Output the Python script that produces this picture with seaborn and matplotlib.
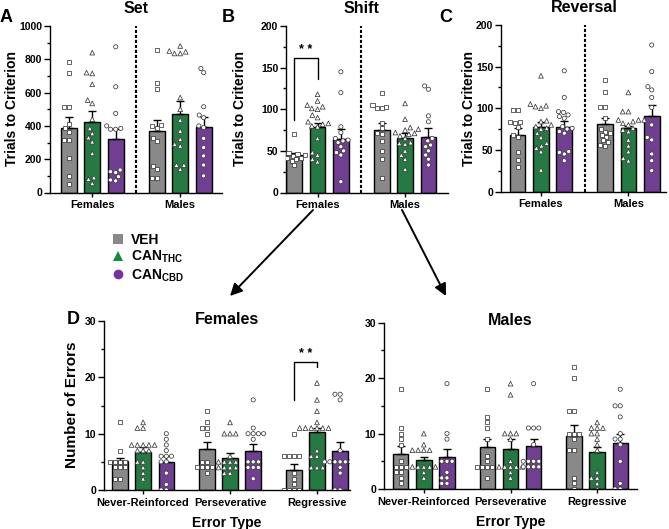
import warnings

import matplotlib

matplotlib.use("Agg")
import matplotlib.pyplot as plt
import pandas as pd
import seaborn as sns
from matplotlib.lines import Line2D
from matplotlib.patches import FancyArrowPatch
from matplotlib.ticker import MultipleLocator

warnings.filterwarnings("ignore")

sns.set_theme(style="ticks")
plt.rcParams["font.family"] = ["Liberation Sans", "DejaVu Sans"]
plt.rcParams["font.weight"] = "bold"
plt.rcParams["axes.labelweight"] = "bold"
plt.rcParams["mathtext.fontset"] = "custom"
plt.rcParams["mathtext.rm"] = "Liberation Sans:bold"
plt.rcParams["mathtext.bf"] = "Liberation Sans:bold"
plt.rcParams["mathtext.it"] = "Liberation Sans:bold"
for key in ["text.color", "axes.labelcolor", "xtick.color", "ytick.color",
            "xtick.labelcolor", "ytick.labelcolor"]:
    plt.rcParams[key] = "black"

TREATMENTS = ["VEH", "THC", "CBD"]
LABELS = ["VEH", r"CAN$_{\mathrm{THC}}$", r"CAN$_{\mathrm{CBD}}$"]
COLORS = ["#898989", "#17883F", "#7431A0"]
MARKERS = ["s", "^", "o"]

SEXES = ["Females", "Males"]
ERROR_TYPES = ["Never-Reinforced", "Perseverative", "Regressive"]

# --- Set (trials to criterion); rows = VEH, THC, CBD ; cols = Females, Males
set_mean = [[387, 367], [421, 473], [321, 393]]
set_sem = [[66, 66], [66, 78], [62, 60]]
set_veh = [[785, 718, 515, 515, 410, 385, 365, 315, 315, 205, 100, 50],
           [855, 655, 620, 405, 400, 390, 330, 310, 160, 140, 90, 90]]
set_thc = [[840, 715, 720, 650, 555, 535, 440, 385, 355, 330, 305, 235, 90, 80, 55],
           [880, 845, 850, 835, 835, 570, 500, 435, 370, 320, 290, 280, 165, 165, 140]]
set_cbd = [[875, 635, 475, 400, 385, 380, 380, 135, 125, 120, 95, 75, 70],
           [745, 720, 515, 465, 450, 400, 390, 325, 270, 220, 165, 100]]

# --- Shift
shift_mean = [[44.7, 74.6], [78.6, 65.9], [64.7, 66.7]]
shift_sem = [[3, 8.7], [4.5, 5], [11, 10.5]]
shift_veh = [[70, 47, 46, 46, 45, 44, 44, 42, 41, 40, 38, 33],
             [120, 105, 103, 102, 101, 84, 78, 72, 70, 62, 50, 40, 17]]
shift_thc = [[118, 110, 105, 103, 101, 100, 93, 90, 85, 83, 82, 80, 79, 65, 48, 45, 40, 37],
             [107, 88, 78, 76, 75, 72, 71, 70, 68, 65, 60, 59, 58, 50, 45, 40, 28]]
shift_cbd = [[145, 120, 79, 72, 65, 63, 62, 60, 55, 50, 48, 45, 13],
             [128, 124, 92, 85, 65, 62, 57, 55, 50, 45, 40, 33]]

# --- Reversal
rev_mean = [[68, 81], [77, 76], [77, 91]]
rev_sem = [[8.5, 7], [6, 3], [8, 13.5]]
rev_veh = [[98, 98, 83, 83, 82, 77, 68, 66, 48, 38, 30],
           [134, 120, 101, 101, 88, 75, 72, 70, 68, 66, 62, 60, 56, 55]]
rev_thc = [[139, 105, 103, 102, 100, 85, 84, 80, 78, 76, 75, 70, 65, 58, 55, 52, 48, 26],
           [119, 96, 96, 86, 86, 86, 84, 82, 80, 76, 74, 72, 62, 55, 48, 40, 37]]
rev_cbd = [[145, 113, 96, 95, 92, 90, 88, 78, 76, 75, 72, 70, 48, 47, 45, 37],
           [176, 144, 126, 122, 113, 101, 80, 65, 62, 45, 37, 25]]

# --- Errors, females; cols = Never-Reinforced, Perseverative, Regressive
fem_mean = [[5.2, 7.2, 3.5], [6.8, 5.6, 10.3], [5.0, 7.0, 7.0]]
fem_sem = [[0.45, 1.25, 1.05], [0.8, 0.9, 0.7], [1.0, 1.2, 1.6]]
fem_veh = [[12, 7, 5, 5, 5, 5, 4, 4, 4, 2, 2],
           [14, 12, 11, 11, 10, 5, 5, 4, 4, 4, 4, 3],
           [10, 6, 6, 6, 6, 3, 2, 1, 0, 0, 0, 0]]
fem_thc = [[12, 11, 11, 8, 8, 8, 8, 8, 7, 7, 7, 5, 5, 4, 3, 2],
           [12, 10, 10, 10, 6, 5, 5, 5, 5, 4, 4, 4, 4, 3, 3],
           [19, 16, 14, 12, 11, 11, 11, 11, 11, 11, 7, 6, 6, 4, 4, 4]]
fem_cbd = [[10, 9, 8, 7, 6, 6, 6, 5, 5, 3, 1, 0, 0],
           [16, 11, 10, 10, 10, 10, 9, 5, 5, 5, 4, 4, 4, 2],
           [17, 17, 16, 7, 5, 5, 5, 5, 5, 5, 4, 3, 0, 0]]

# --- Errors, males
mal_mean = [[6.3, 7.5, 9.6], [5.2, 7.2, 6.6], [5.7, 7.7, 8.3]]
mal_sem = [[1.4, 1.5, 1.9], [0.6, 1.8, 0.9], [1.6, 1.3, 1.7]]
mal_veh = [[18, 11, 10, 9, 8, 5, 4, 4, 4, 3, 3, 2, 1],
           [18, 13, 12, 11, 9, 6, 5, 4, 4, 4, 4, 2],
           [22, 20, 14, 14, 10, 10, 10, 9, 7, 7, 2, 1, 0]]
mal_thc = [[10, 8, 7, 7, 7, 7, 4, 4, 4, 4, 4, 3, 2],
           [19, 17, 10, 10, 10, 9, 5, 4, 4, 4, 4, 4, 3, 2],
           [12, 11, 11, 11, 10, 10, 9, 8, 7, 3, 2, 2, 1, 0]]
mal_cbd = [[19, 10, 9, 5, 5, 5, 3, 2, 2, 1, 1],
           [19, 11, 11, 11, 8, 5, 5, 5, 5, 4, 4, 4, 4],
           [18, 15, 15, 13, 10, 9, 9, 8, 5, 1, 0, 0]]

W, H = 669, 529
fig = plt.figure(figsize=(W / 100, H / 100), dpi=100)


def px_axes(left, top, right, bottom):
    return fig.add_axes([left / W, 1 - bottom / H, (right - left) / W, (bottom - top) / H])


def draw_panel(ax, cats, means, sems, points, ylim, major, minor, xlim):
    bar_df = pd.DataFrame(
        [(c, t, m) for t, row in zip(TREATMENTS, means) for c, m in zip(cats, row)],
        columns=["cat", "treatment", "value"],
    )
    sns.barplot(data=bar_df, x="cat", y="value", hue="treatment", order=cats,
                hue_order=TREATMENTS, palette=COLORS, gap=0.33, edgecolor="black",
                linewidth=1, errorbar=None, legend=False, ax=ax)
    sem_flat = [s for row in sems for s in row]
    for patch, s in zip(ax.patches, sem_flat):
        xc = patch.get_x() + patch.get_width() / 2
        ax.errorbar(xc, patch.get_height(), yerr=[[0], [s]], fmt="none", ecolor="black",
                    elinewidth=1, capsize=2.8, capthick=1, zorder=3)
    pts = pd.DataFrame(
        [(c, t, v) for t, per_cat in zip(TREATMENTS, points)
         for c, vals in zip(cats, per_cat) for v in vals],
        columns=["cat", "treatment", "value"],
    )
    for trt, mk, sz in zip(TREATMENTS, MARKERS, [2.9, 3.4, 3.0]):
        sns.swarmplot(data=pts[pts["treatment"] == trt], x="cat", y="value", hue="treatment",
                      order=cats, hue_order=TREATMENTS, dodge=True,
                      palette={t: "white" for t in TREATMENTS}, marker=mk, size=sz,
                      edgecolor="#3a3a3a", linewidth=0.55, legend=False, ax=ax, zorder=4)
    ax.set_xlim(*xlim)
    ax.set_ylim(*ylim)
    ax.yaxis.set_major_locator(MultipleLocator(major))
    ax.yaxis.set_minor_locator(MultipleLocator(minor))
    ax.set_xlabel("")
    ax.set_ylabel("")
    sns.despine(ax=ax)
    for sp in ("left", "bottom"):
        ax.spines[sp].set_linewidth(1)
        ax.spines[sp].set_color("black")
    ax.tick_params(axis="y", which="major", length=4, width=1, labelsize=7.5, pad=1.5,
                   color="black", labelcolor="black")
    ax.tick_params(axis="y", which="minor", length=2, width=1, color="black")
    ax.tick_params(axis="x", length=3, width=1, labelsize=8, pad=2.5, color="black",
                   labelcolor="black")
    for lab in ax.get_xticklabels() + ax.get_yticklabels():
        lab.set_fontweight("bold")


def bracket(ax, i0, i1, y0, top, y1, star_y):
    p0, p1 = ax.patches[i0], ax.patches[i1]
    x0 = p0.get_x() + p0.get_width() / 2
    x1 = p1.get_x() + p1.get_width() / 2
    ax.plot([x0, x0, x1, x1], [y0, top, top, y1], color="black", lw=1, clip_on=False)
    ax.text((x0 + x1) / 2, star_y, "* *", ha="center", va="center", fontsize=9, clip_on=False)


# ---- top row
ax_a = px_axes(50, 26, 222, 192.5)
draw_panel(ax_a, SEXES, set_mean, set_sem, [set_veh, set_thc, set_cbd],
           (0, 1000), 200, 100, (-0.48, 1.475))
ax_b = px_axes(286, 26, 448, 192.5)
draw_panel(ax_b, SEXES, shift_mean, shift_sem, [shift_veh, shift_thc, shift_cbd],
           (0, 200), 50, 25, (-0.36, 1.49))
ax_c = px_axes(501, 25, 666, 191.5)
draw_panel(ax_c, SEXES, rev_mean, rev_sem, [rev_veh, rev_thc, rev_cbd],
           (0, 200), 50, 25, (-0.457, 1.43))

for ax, title in zip([ax_a, ax_b, ax_c], ["Set", "Shift", "Reversal"]):
    ax.axvline(0.5, color="black", lw=1.5, ls=(0, (1.5, 0.9)), zorder=2)
    ax.text(0.5, 1.08, title, transform=ax.get_xaxis_transform(), ha="center",
            va="baseline", fontsize=11.5, clip_on=False)

bracket(ax_b, 0, 2, 87, 162, 136, 171)

# ---- bottom row
ax_f = px_axes(104, 321, 350, 490)
draw_panel(ax_f, ERROR_TYPES, fem_mean, fem_sem, [fem_veh, fem_thc, fem_cbd],
           (0, 30), 10, 5, (-0.45, 2.38))
ax_m = px_axes(384, 322.7, 637, 489)
draw_panel(ax_m, ERROR_TYPES, mal_mean, mal_sem, [mal_veh, mal_thc, mal_cbd],
           (0, 30), 10, 5, (-0.46, 2.46))
bracket(ax_f, 2, 5, 16, 22.7, 21.8, 24.2)

for ax, title in zip([ax_f, ax_m], ["Females", "Males"]):
    ax.text(0.5, 0.985, title, transform=ax.transAxes, ha="center", va="baseline",
            fontsize=11.5, clip_on=False)
    ax.set_xlabel("Error Type", fontsize=10, labelpad=6)


# ---- figure-level text
def ftext(x, y, s, **kw):
    fig.text(x / W, 1 - y / H, s, **kw)


for x, y, letter in [(6.5, 17.5, "A"), (228.5, 17.5, "B"), (445.5, 17.5, "C"), (73.5, 320, "D")]:
    ftext(x, y, letter, ha="center", va="center", fontsize=13)
for x, y in [(12.5, 108), (240, 108), (469, 108)]:
    ftext(x, y, "Trials to Criterion", rotation=90, ha="center", va="center", fontsize=10)
ftext(72.5, 405, "Number of Errors", rotation=90, ha="center", va="center", fontsize=11)

handles = [Line2D([], [], marker=m, color=c, ls="none", markersize=7, markeredgewidth=0)
           for m, c in zip(MARKERS, COLORS)]
fig.legend(handles, LABELS, loc="upper left", bbox_to_anchor=(104 / W, 1 - 227 / H),
           frameon=False, fontsize=10, handletextpad=0.35, labelspacing=0.15,
           borderaxespad=0, handlelength=1.2)

for (xa, ya), (xb, yb) in [((313, 210), (230, 296)), ((402, 210), (446, 296))]:
    fig.add_artist(FancyArrowPatch((xa / W, 1 - ya / H), (xb / W, 1 - yb / H),
                                   transform=fig.transFigure, color="black", lw=1.4,
                                   arrowstyle="-|>,head_length=0.6,head_width=0.3",
                                   mutation_scale=12, shrinkA=0, shrinkB=0))

fig.savefig("out.png", dpi=100)
